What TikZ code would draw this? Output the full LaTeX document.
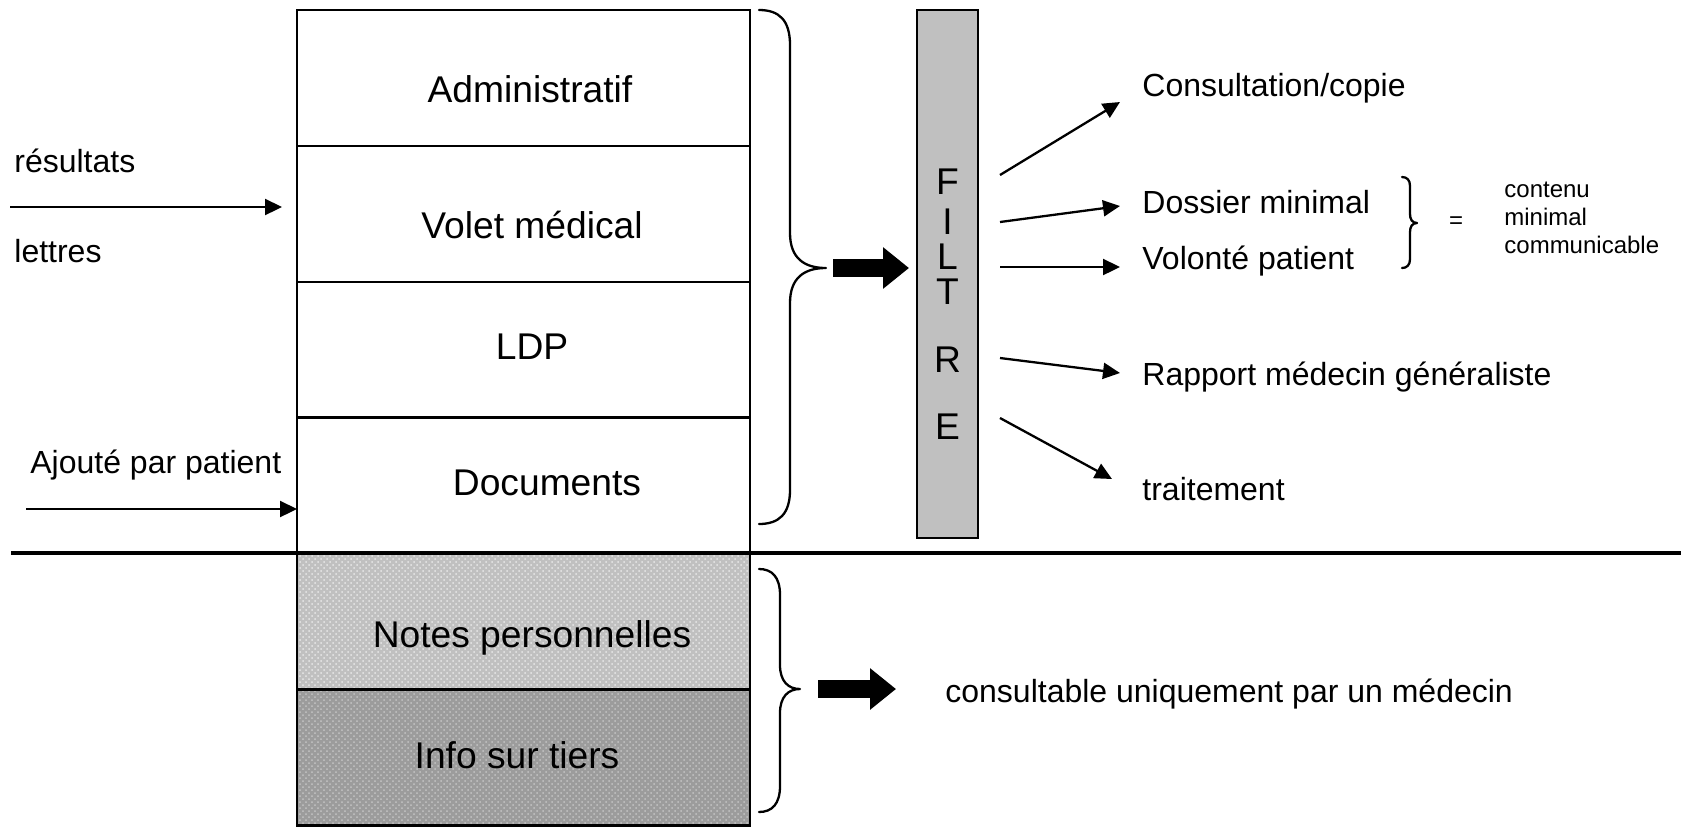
\documentclass[tikz,border=0pt]{standalone}
\usepackage{fontspec}
\setmainfont{Liberation Sans}
\usetikzlibrary{arrows.meta,patterns}

\definecolor{notesgray}{HTML}{C0C0C0}
\definecolor{notesdot}{HTML}{E8E8E8}
\definecolor{tiersgray}{HTML}{9C9C9C}
\definecolor{tiersdot}{HTML}{C4C4C4}
\definecolor{filtregray}{HTML}{C0C0C0}

\begin{document}
\begin{tikzpicture}[x=0.5pt,y=-0.5pt,
  rowbox/.style={draw, line width=1.25pt, rectangle, minimum width=226.5pt,
    minimum height=68pt, inner sep=0pt},
  bigtxt/.style={font=\fontsize{18.6}{22}\selectfont, inner sep=0pt},
  midtxt/.style={font=\fontsize{16}{19}\selectfont, inner sep=0pt},
  smalltxt/.style={font=\fontsize{12}{14}\selectfont, inner sep=0pt},
  thinarrow/.style={line width=1.15pt, -{Triangle[length=8.5pt,width=8pt]}},
  fatarrow/.style={line width=9pt, -{Triangle[length=13pt,width=20pt]}},
  bracepath/.style={line width=1.15pt, line cap=round, line join=round}
]
\useasboundingbox (0,0) rectangle (1681,826);
\fill[white] (0,0) rectangle (1681,826);

% ---- stacked record boxes ----
\node[rowbox] (adm) at (523.5,78) {};
\node[rowbox] (vol) at (523.5,214) {};
\node[rowbox] (ldp) at (523.5,350) {};
\node[rowbox] (doc) at (523.5,485.5) {};
\node[rowbox, preaction={fill=notesgray},
  preaction={pattern=crosshatch dots, pattern color=notesdot}] (notes) at (523.5,621) {};
\node[rowbox, preaction={fill=tiersgray},
  preaction={pattern=crosshatch dots, pattern color=tiersdot}] (tiers) at (523.5,757.5) {};

\node[bigtxt, anchor=base] (adm-t) at (530,102) {Administratif};
\node[bigtxt, anchor=base] (vol-t) at (532,238) {Volet médical};
\node[bigtxt, anchor=base] (ldp-t) at (532,359) {LDP};
\node[bigtxt, anchor=base] (doc-t) at (547,495) {Documents};
\node[bigtxt, anchor=base] (notes-t) at (532,647) {Notes personnelles};
\node[bigtxt, anchor=base] (tiers-t) at (517,768) {Info sur tiers};

% ---- inputs on the left ----
\node[midtxt, anchor=base west] (res) at (14,172) {résultats};
\node[midtxt, anchor=base west] (let) at (14,262) {lettres};
\node[midtxt, anchor=base west] (ajo) at (30,473) {Ajouté par patient};
\coordinate (res-from) at (10,207);
\coordinate (res-to) at (282,207);
\coordinate (ajo-from) at (26,509);
\coordinate (ajo-to) at (297,509);
\draw[thinarrow] (res-from) -- (res-to);
\draw[thinarrow] (ajo-from) -- (ajo-to);

% ---- upper brace and filter ----
\draw[bracepath] (759,10) .. controls (779,10) and (790,20) .. (790,45)
  -- (790,233) .. controls (790,258) and (804,268) .. (826,268)
  .. controls (804,268) and (790,278) .. (790,303)
  -- (790,490) .. controls (790,514) and (779,524) .. (759,524);
\coordinate (tip1) at (833,268);
\coordinate (tip1-to) at (909,268);
\draw[fatarrow] (tip1) -- (tip1-to);

\node[draw, line width=1.25pt, fill=filtregray, minimum width=30.5pt,
  minimum height=264pt, inner sep=0pt] (filtre) at (947.5,274) {};
\foreach \l/\yy [count=\i] in {F/182, I/222, L/257, T/292, R/360, E/427}
  \node[bigtxt] (filtre-\i) at (947.5,\yy) {\l};

% ---- filter outputs ----
\node[midtxt, anchor=base west] (cons) at (1142,96) {Consultation/copie};
\node[midtxt, anchor=base west] (doss) at (1142,213) {Dossier minimal};
\node[midtxt, anchor=base west] (volo) at (1142,269) {Volonté patient};
\node[midtxt, anchor=base west] (rapp) at (1142,385) {Rapport médecin généraliste};
\node[midtxt, anchor=base west] (trai) at (1142,500) {traitement};

\coordinate (o1) at (1000,175);  \coordinate (e1) at (1120,102);
\coordinate (o2) at (1000,222);  \coordinate (e2) at (1120,206);
\coordinate (o3) at (1000,267);  \coordinate (e3) at (1120,267);
\coordinate (o4) at (1000,358);  \coordinate (e4) at (1120,373);
\coordinate (o5) at (1000,418);  \coordinate (e5) at (1112,479);
\foreach \i in {1,...,5}
  \draw[thinarrow] (o\i) -- (e\i);

% ---- minimal content note ----
\draw[bracepath] (1402,177) .. controls (1407,177) and (1410,180) .. (1410,186)
  -- (1410,214) .. controls (1410,219) and (1412,223) .. (1417,223)
  .. controls (1412,223) and (1410,227) .. (1410,232)
  -- (1410,259) .. controls (1410,265) and (1407,268) .. (1402,268);
\node[smalltxt] (eq) at (1456,223) {=};
\node[smalltxt, anchor=base west] (cm1) at (1504,197) {contenu};
\node[smalltxt, anchor=base west] (cm2) at (1504,225) {minimal};
\node[smalltxt, anchor=base west] (cm3) at (1504,253) {communicable};

% ---- lower brace ----
\draw[bracepath] (759,569) .. controls (772,569) and (780,577) .. (780,595)
  -- (780,665) .. controls (780,681) and (788,689) .. (800,689)
  .. controls (788,689) and (780,697) .. (780,713)
  -- (780,786) .. controls (780,804) and (772,812) .. (759,812);
\coordinate (tip2) at (818,689);
\coordinate (tip2-to) at (896,689);
\draw[fatarrow] (tip2) -- (tip2-to);
\node[midtxt, anchor=base west] (medc) at (945,702) {consultable uniquement par un médecin};

% ---- separating line ----
\coordinate (sep-l) at (11,553);
\coordinate (sep-r) at (1681,553);
\draw[line width=1.75pt] (sep-l) -- (sep-r);
\end{tikzpicture}
\end{document}
